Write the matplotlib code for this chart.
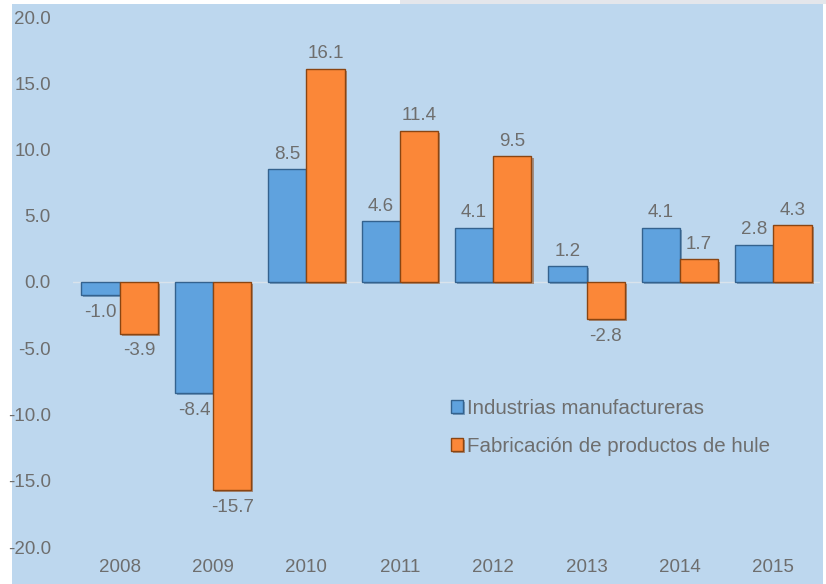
import numpy as np
import matplotlib.pyplot as plt
import matplotlib.patches as patches
import matplotlib.patheffects as pe

years = ['2008', '2009', '2010', '2011', '2012', '2013', '2014', '2015']
manufactureras = [-1.0, -8.4, 8.5, 4.6, 4.1, 1.2, 4.1, 2.8]
hule = [-3.9, -15.7, 16.1, 11.4, 9.5, -2.8, 1.7, 4.3]
series_names = ['Industrias manufactureras', 'Fabricación de productos de hule']

plt.rcParams['font.family'] = ['Liberation Sans', 'DejaVu Sans']

bg = '#BDD7EE'
txt = '#6E6E6E'
blue = '#5FA2DE'
blue_edge = '#34628E'
orange = '#FB8738'
orange_edge = '#8A4512'
fs = 13.5

fig = plt.figure(figsize=(8.26, 5.84), dpi=100)
fig.patch.set_facecolor('white')

# fondo azul claro del recuadro
fig.patches.append(patches.Rectangle((12 / 826, 0), 811 / 826, 580 / 584,
                                     transform=fig.transFigure, facecolor=bg,
                                     edgecolor='none', zorder=-10))
# franja gris arriba a la derecha
fig.patches.append(patches.Rectangle((400 / 826, 580 / 584), 426 / 826, 4 / 584,
                                     transform=fig.transFigure, facecolor='#E4E6EB',
                                     edgecolor='none', zorder=-10))

ax = fig.add_axes([73 / 826, 37 / 584, 747 / 826, 530 / 584])
ax.set_facecolor('none')

x = np.arange(len(years))
w = 0.41

b1 = ax.bar(x - w / 2, manufactureras, w, color=blue, edgecolor=blue_edge,
            linewidth=1.0, label=series_names[0], zorder=3)
b2 = ax.bar(x + w / 2, hule, w, color=orange, edgecolor=orange_edge,
            linewidth=1.0, label=series_names[1], zorder=3)

# sombra para dar algo de relieve
for bars, ec in ((b1, blue_edge), (b2, orange_edge)):
    for rect in bars:
        rect.set_path_effects([pe.SimplePatchShadow(offset=(1.5, -1.5),
                                                    shadow_rgbFace=ec, alpha=0.5),
                               pe.Normal()])

ax.axhline(0, color='#D9E3EC', linewidth=1.0, zorder=2)

# etiquetas de valores
for bars, vals in ((b1, manufactureras), (b2, hule)):
    for rect, v in zip(bars, vals):
        off = 15 if v >= 0 else -17
        ax.annotate(f'{v:.1f}', (rect.get_x() + rect.get_width() / 2, v),
                    xytext=(0, off), textcoords='offset pixels',
                    ha='center', va='center', fontsize=fs, color=txt)

ax.set_xlim(-0.5, len(years) - 0.5)
ax.set_ylim(-20, 20)
ax.set_yticks(np.arange(-20, 21, 5))
ax.set_yticklabels([f'{v:.1f}' for v in np.arange(-20, 21, 5)])
ax.set_xticks(x)
ax.set_xticklabels(years)
ax.tick_params(axis='y', length=0, pad=16, labelsize=fs, labelcolor=txt)
ax.tick_params(axis='x', length=0, pad=9, labelsize=fs, labelcolor=txt)
for s in ax.spines.values():
    s.set_visible(False)

leg = ax.legend(loc='upper left', bbox_to_anchor=(0.506, 0.28), frameon=False,
                fontsize=14.8, handlelength=0.6, handleheight=0.6,
                handletextpad=0.2, labelspacing=0.95, borderaxespad=0, borderpad=0)
for t in leg.get_texts():
    t.set_color(txt)

plt.savefig('out.png', dpi=100, facecolor=fig.get_facecolor())
